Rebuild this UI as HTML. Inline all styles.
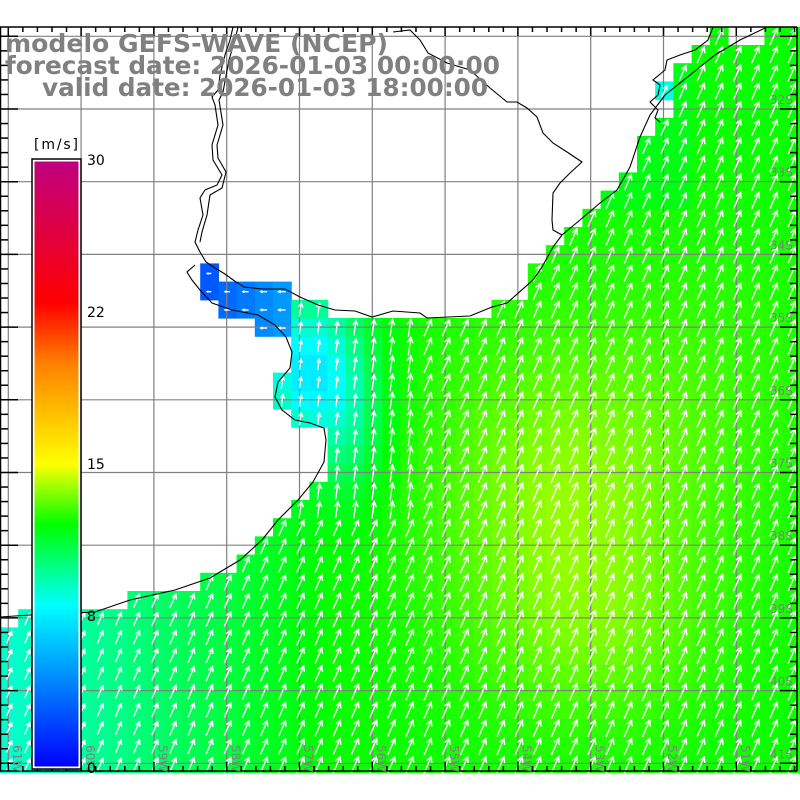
<!DOCTYPE html>
<html><head><meta charset="utf-8">
<style>
html,body{margin:0;padding:0;background:#fff;}
svg{display:block;}
.t{font-family:"DejaVu Sans","Liberation Sans",sans-serif;font-weight:bold;fill:#808080;font-size:25px;}
.s{font-family:"DejaVu Sans","Liberation Sans",sans-serif;fill:#808080;font-size:12px;}
.c{font-family:"DejaVu Sans","Liberation Sans",sans-serif;fill:#000;font-size:14px;}
</style></head>
<body>
<svg id="sv" width="800" height="800" xmlns="http://www.w3.org/2000/svg">
<defs>
<linearGradient id="cb" x1="0" y1="1" x2="0" y2="0">
<stop offset="0" stop-color="#0000ff"/>
<stop offset="0.2667" stop-color="#00ffff"/>
<stop offset="0.4" stop-color="#00ff00"/>
<stop offset="0.5" stop-color="#ffff00"/>
<stop offset="0.6667" stop-color="#ff8000"/>
<stop offset="0.7667" stop-color="#ff0000"/>
<stop offset="1" stop-color="#c0007f"/>
</linearGradient>
</defs>
<g id="cells"></g>
<g id="grid" stroke="#808080" stroke-width="1.2"></g>
<g id="arrows" stroke="#fff" stroke-width="1.4" fill="none"></g>
<g id="coast" stroke="#000" stroke-width="1.1" fill="none"></g>
<rect x="0" y="773" width="800" height="27" fill="#fff"/>
<rect x="0" y="0" width="800" height="26" fill="#fff"/>
<g id="ticks" stroke="#000" stroke-width="1.5"></g>
<g id="ticks2" stroke="#000" stroke-width="1.5"></g>
<g id="labs"></g>
<rect x="32" y="159" width="49" height="610" fill="#fff" stroke="#000" stroke-width="1.5"/>
<rect x="34.5" y="161.5" width="44" height="605" fill="url(#cb)"/>
<text class="c" x="34" y="149" textLength="44">[m/s]</text>
<text class="c" x="87" y="165">30</text>
<text class="c" x="87" y="317">22</text>
<text class="c" x="87" y="469">15</text>
<text class="c" x="87" y="621">8</text>
<text class="c" x="87" y="773">0</text>
<text class="t" x="5" y="52" textLength="383" lengthAdjust="spacingAndGlyphs">modelo GEFS-WAVE (NCEP)</text>
<text class="t" x="5" y="74" textLength="495" lengthAdjust="spacingAndGlyphs">forecast date: 2026-01-03 00:00:00</text>
<text class="t" x="42" y="96" textLength="446" lengthAdjust="spacingAndGlyphs">valid date: 2026-01-03 18:00:00</text>
</svg>
<script>
const NS="http://www.w3.org/2000/svg";
function el(p,t,a){const e=document.createElementNS(NS,t);for(const k in a)e.setAttribute(k,a[k]);p.appendChild(e);return e;}
const poly=[[0,773],[0,628],[18,628],[18,610],[127,610],[127,591],[200,591],[200,573],[237,573],[237,555],[255,555],[255,537],[273,537],[273,518],[291,518],[291,500],[309,500],[309,482],[327,482],[327,428],[291,428],[291,410],[273,410],[273,373],[291,373],[291,337],[255,337],[255,318],[218,318],[218,300],[200,300],[200,264],[218,264],[218,282],[291,282],[291,300],[327,300],[327,318],[491,318],[491,300],[527,300],[527,264],[546,264],[546,246],[564,246],[564,228],[582,228],[582,209],[600,209],[600,191],[618,191],[618,173],[637,173],[637,136],[655,136],[655,118],[673,118],[673,100],[655,100],[655,82],[673,82],[673,64],[691,64],[691,45],[710,45],[710,27],[727,27],[727,45],[764,45],[764,20],[800,20],[800,773]];
function inside(x,y){let c=false;for(let i=0,j=poly.length-1;i<poly.length;j=i++){const [xi,yi]=poly[i],[xj,yj]=poly[j];if(((yi>y)!=(yj>y))&&(x<(xj-xi)*(y-yi)/(yj-yi)+xi))c=!c;}return c;}
const stops=[[0,[0,0,255]],[8,[0,255,255]],[12,[0,255,0]],[15,[255,255,0]],[20,[255,128,0]],[23,[255,0,0]],[30,[192,0,127]]];
function col(s){s=Math.max(0,Math.min(30,s));for(let i=0;i<stops.length-1;i++){const [a,ca]=stops[i],[b,cb]=stops[i+1];if(s<=b){const f=(s-a)/(b-a);return 'rgb('+ca.map((v,k)=>Math.round(v+(cb[k]-v)*f)).join(',')+')';}}return 'rgb(192,0,127)';}
function speed(x,y){
 if(x<291&&y<340) return 2.5+(x-200)/35;
 let s=12.1;
 s+=1.6*Math.exp(-((x-565)**2/(2*95*95)+(y-500)**2/(2*120*120)));
 s+=0.6*Math.exp(-((x-610)**2/(2*80*80)+(y-640)**2/(2*60*60)));
 s+=0.4*Math.exp(-((x-720)**2/(2*80*80)+(y-380)**2/(2*120*120)));
 if(y>480) s-=3.4*Math.max(0,1-x/330);
 s-=4.6*Math.exp(-((x-305)**2/(2*35*35)+(y-370)**2/(2*55*55)));
 s-=1.6*Math.exp(-((x-350)**2/(2*25*25)+(y-420)**2/(2*60*60)));
 if(x>650&&x<675&&y>82&&y<100) s=9;
 if(x<700&&y<200) s-=0.5;
 return s;
}
const cg=document.getElementById('cells'),ag=document.getElementById('arrows');
const W=18.2;
for(let r=0;r<42;r++){
 const y1=773-W*(r+1);
 for(let c=0;c<44;c++){
  const x1=c*W,cx=x1+W/2,cy=y1+W/2;
  if(!inside(cx,cy))continue;
  const s=speed(cx,cy);
  el(cg,'rect',{x:x1.toFixed(1),y:y1.toFixed(1),width:(W+0.6).toFixed(1),height:(W+0.6).toFixed(1),fill:col(s)});
  let ang=24*Math.PI/180, L=Math.min(20,s*1.45);
  if(cx<291&&cy<340){ang=-90*Math.PI/180;L=s*1.5;}
  else if(cx<420&&cy<520&&cy>300) ang=8*Math.PI/180;
  const dx=Math.sin(ang)*L,dy=-Math.cos(ang)*L;
  const bx=cx-dx/2,by=cy-dy/2+1,tx=cx+dx/2,ty=cy+dy/2+1;
  const ux=dx/L,uy=dy/L,h=L*0.35;
  const a1=Math.cos(0.5),b1=Math.sin(0.5);
  const h1x=tx-h*(ux*a1-uy*b1),h1y=ty-h*(uy*a1+ux*b1);
  const h2x=tx-h*(ux*a1+uy*b1),h2y=ty-h*(uy*a1-ux*b1);
  el(ag,'path',{d:`M${bx.toFixed(1)} ${by.toFixed(1)}L${tx.toFixed(1)} ${ty.toFixed(1)}M${h1x.toFixed(1)} ${h1y.toFixed(1)}L${tx.toFixed(1)} ${ty.toFixed(1)}L${h2x.toFixed(1)} ${h2y.toFixed(1)}`});
 }
}
const gg=document.getElementById('grid');
for(let i=0;i<11;i++){const x=8.3+72.8*i;el(gg,'line',{x1:x,y1:27,x2:x,y2:771});}
for(let i=0;i<11;i++){const y=36.3+72.7*i;el(gg,'line',{x1:0,y1:y,x2:797,y2:y});}
const co=document.getElementById('coast');
function pl(pts,off){el(co,'polyline',{points:pts.map(p=>(p[0]+(off||0))+','+p[1]).join(' ')});}
pl([[0,617],[30,615],[95,612],[130,600],[175,590],[210,578],[240,560],[262,540],[278,520],[298,500],[313,482],[324,462],[326,440],[324,428],[310,423],[295,420],[282,410],[275,397],[278,382],[290,368],[292,352],[286,337],[275,325],[258,315],[232,310],[212,303],[200,290],[192,280],[187,272],[195,265]]);
pl([[233,27],[230,40],[225,55],[220,75],[218,90],[212,97],[215,105],[218,125],[212,145],[213,160],[222,175],[217,185],[205,190],[200,198],[203,215],[198,230],[195,242],[200,252],[206,262],[215,268],[225,274],[236,282],[244,287],[262,289],[285,289],[300,297],[318,305],[335,310],[355,311],[372,317],[393,311],[420,313],[427,318],[470,316],[492,307],[507,303],[533,280],[542,267],[553,247],[562,235],[580,220],[600,203],[617,190],[630,167],[640,137],[650,115],[665,95],[690,75],[715,55],[740,40],[765,28]]);
pl([[238,27],[235,40],[229,60],[223,92],[219,100],[223,125],[217,145],[218,158],[226,172],[222,188],[210,195],[207,215],[202,232],[200,242]]);
pl([[393,32],[410,30],[420,40],[428,53],[447,63],[470,70],[490,88],[507,102],[517,102],[527,108],[537,117],[543,133],[553,143],[567,152],[582,162],[570,173],[560,183],[553,193],[552,220],[553,230],[562,235]]);
pl([[713,27],[708,40],[695,50],[680,55],[667,60],[665,70],[653,80],[660,85],[658,95],[650,102],[658,110],[655,118],[660,122]]);
const tk=document.getElementById('ticks'),tk2=document.getElementById('ticks2');
el(tk2,'line',{x1:0,y1:27,x2:797,y2:27});
el(tk,'line',{x1:0,y1:771,x2:797,y2:771});
el(tk,'line',{x1:797,y1:27,x2:797,y2:771});
el(tk,'line',{x1:0.5,y1:27,x2:0.5,y2:771});
for(let i=-1;i<56;i++){const x=8.3+14.56*i;if(x<0||x>797)continue;const maj=((i%5)+5)%5==0;
 el(tk2,'line',{x1:x,y1:27,x2:x,y2:maj?36:32});
 el(tk,'line',{x1:x,y1:771,x2:x,y2:maj?762:766});}
for(let i=-1;i<52;i++){const y=36.3+14.54*i;if(y<27||y>771)continue;const maj=((i%5)+5)%5==0;
 el(tk,'line',{x1:0,y1:y,x2:maj?18:8,y2:y});
 el(tk,'line',{x1:797,y1:y,x2:maj?780:790,y2:y});}
const lb=document.getElementById('labs');
for(let k=0;k<10;k++){const t=el(lb,'text',{class:'s',x:770,y:(104+72.7*k).toFixed(1)});t.textContent=(32+k)+'S';}
for(let k=0;k<11;k++){const x=13+72.8*k;const t=el(lb,'text',{class:'s',x:0,y:0,transform:`translate(${x.toFixed(1)},745) rotate(90)`});t.textContent=(61-k)+'W';}
</script>
</body></html>
